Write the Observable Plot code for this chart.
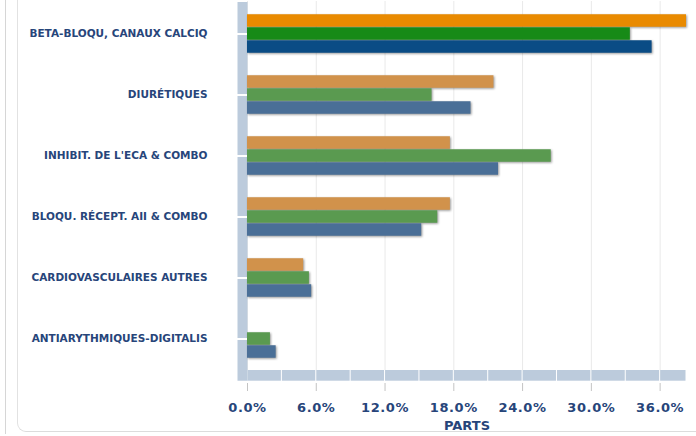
<!DOCTYPE html>
<html>
<head>
<meta charset="utf-8">
<script src="https://cdn.jsdelivr.net/npm/d3@7"></script>
<script src="https://cdn.jsdelivr.net/npm/@observablehq/plot@0.6"></script>
<style>
  html, body { margin: 0; padding: 0; background: #fff; }
  #wrap { position: relative; width: 696px; height: 436px; overflow: hidden; }
  .frame-outer { position: absolute; left: 5px; top: -20px; width: 800px; height: 454px;
    border-left: 1px solid #d6d6d6; pointer-events: none; }
  .frame-inner { position: absolute; left: 17px; top: -20px; width: 800px; height: 451px;
    border-left: 1px solid #e2e2e2; border-bottom: 1px solid #dcdcdc; border-bottom-left-radius: 9px; pointer-events: none; }
  g[aria-label="x-axis tick label"] text { letter-spacing: 0.6px; }
</style>
</head>
<body>
<div id="wrap">
  <div class="frame-outer"></div>
  <div class="frame-inner"></div>
</div>
<script>
const categories = [
  "BETA-BLOQU, CANAUX CALCIQ",
  "DIURÉTIQUES",
  "INHIBIT. DE L'ECA & COMBO",
  "BLOQU. RÉCEPT. AII & COMBO",
  "CARDIOVASCULAIRES AUTRES",
  "ANTIARYTHMIQUES-DIGITALIS"
];
const seriesNames = ["Série 1", "Série 2", "Série 3"];
const series1 = [38.3, 21.5, 17.7, 17.7, 4.9, 0];
const series2 = [33.4, 16.1, 26.5, 16.6, 5.4, 2.0];
const series3 = [35.3, 19.5, 21.9, 15.2, 5.6, 2.5];
const xTicks = [0, 6, 12, 18, 24, 30, 36];
const xMax = 38.3;
const axisTitle = "PARTS";

const highlightColors = ["#E98A00", "#178A17", "#0A4C85"];
const baseColors = ["#D1924B", "#5A9A50", "#4A6F97"];
const bandColor = "#BCCBDC";
const labelColor = "#27457A";

const allSeries = [series1, series2, series3];
const rows = [];
allSeries.forEach((vals, s) => {
  vals.forEach((v, i) => {
    rows.push({
      category: categories[i],
      series: seriesNames[s],
      s,
      value: v,
      color: i === 0 ? highlightColors[s] : baseColors[s]
    });
  });
});

const floorStarts = d3.range(0, xMax, 3);
const floorSegments = floorStarts.map(a => ({start: a, end: Math.min(a + 3, xMax)}));

const barOffsets = [-13, 0, 13];
const barMarks = seriesNames.map((name, s) =>
  Plot.barX(rows.filter(d => d.s === s && d.value > 0), {
    x: "value",
    y: "category",
    fill: "color",
    dy: barOffsets[s],
    insetTop: 24.25,
    insetBottom: 24.25
  })
);

const chart = Plot.plot({
  width: 696,
  height: 436,
  marginLeft: 247,
  marginRight: 10,
  marginTop: 1,
  marginBottom: 66,
  x: {domain: [0, xMax], label: null},
  y: {domain: categories, padding: 0, label: null},
  color: {type: "identity"},
  style: {fontFamily: "'DejaVu Sans', Verdana, sans-serif", background: "transparent"},
  marks: [
    Plot.ruleX(xTicks, {stroke: "#e9e9e9", strokeWidth: 1}),
    Plot.ruleX([0], {stroke: bandColor, strokeWidth: 10, dx: -5, insetTop: 1, insetBottom: -10.7}),
    Plot.rect(floorSegments, {x1: "start", x2: "end", fill: bandColor, insetLeft: 0.5, insetRight: 0.5, insetTop: 369, insetBottom: -10.7}),
    ...barMarks,
    Plot.axisY({tickSize: 10, stroke: "white", strokeWidth: 2, tickPadding: 30, fontSize: 10.5, fontWeight: "bold", fill: labelColor, label: null}),
    Plot.axisX({ticks: xTicks, tickFormat: d => d.toFixed(1) + "%", tickSize: 8, dy: 13, stroke: "#c4c4c4", tickPadding: 11, fontSize: 13, fontWeight: "bold", fill: labelColor, label: null}),
    Plot.text([axisTitle], {frameAnchor: "bottom", dy: 59, fontSize: 13, fontWeight: "bold", fill: labelColor, text: d => d})
  ]
});

chart.querySelectorAll('g[aria-label="bar"]').forEach(g => {
  g.style.filter = "drop-shadow(1.5px 1.5px 1.2px rgba(0,0,0,0.4))";
});
chart.style.position = "absolute";
chart.style.left = "0";
chart.style.top = "0";
document.getElementById("wrap").appendChild(chart);
</script>
</body>
</html>
